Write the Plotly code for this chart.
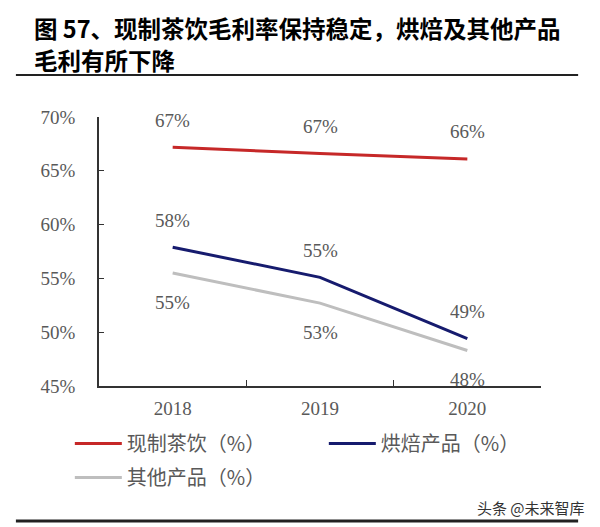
import plotly.graph_objects as go

years = ["2018", "2019", "2020"]
tea = [67.2, 66.6, 66.1]
bakery = [57.9, 55.1, 49.4]
other = [55.5, 52.7, 48.3]
tea_labels = ["67%", "67%", "66%"]
bakery_labels = ["58%", "55%", "49%"]
other_labels = ["55%", "53%", "48%"]
y_ticks = [45, 50, 55, 60, 65, 70]
title_lines = ["图 57、现制茶饮毛利率保持稳定，烘焙及其他产品", "毛利有所下降"]

serif = "Liberation Serif, Times New Roman, serif"
cjk = "Noto Sans CJK SC"
grey_txt = "#595959"

fig = go.Figure()
fig.add_trace(go.Scatter(x=years, y=tea, mode="lines", name="现制茶饮（%）",
                         line=dict(color="#C62828", width=3)))
fig.add_trace(go.Scatter(x=years, y=bakery, mode="lines", name="烘焙产品（%）",
                         line=dict(color="#161B6E", width=3)))
fig.add_trace(go.Scatter(x=years, y=other, mode="lines", name="其他产品（%）",
                         line=dict(color="#BEBEBE", width=3), legend="legend2"))

# data labels (category index used as x)
for vals, labels, shift in [(tea, tea_labels, 27), (bakery, bakery_labels, 27), (other, other_labels, -29)]:
    for i, (v, t) in enumerate(zip(vals, labels)):
        fig.add_annotation(x=i, y=v, text=t, showarrow=False, yshift=shift,
                           font=dict(family=serif, size=19, color=grey_txt))

# title, one annotation per line
for line, ypos in zip(title_lines, [1.331, 1.212]):
    fig.add_annotation(text=f"<b>{line}</b>", xref="paper", yref="paper", x=-0.1516, y=ypos,
                       xanchor="left", yanchor="middle", align="left", showarrow=False,
                       font=dict(family=cjk, size=23.5, color="black"))

fig.add_annotation(text="头条 @未来智库", xref="paper", yref="paper", x=1.104, y=-0.45,
                   xanchor="right", yanchor="middle", showarrow=False,
                   font=dict(family=cjk, size=15, color="#333333"))

# title rule and bottom rule
fig.add_shape(type="line", xref="paper", yref="paper", x0=-0.188, x1=1.084, y0=1.156, y1=1.156,
              line=dict(color="#222222", width=2))
fig.add_shape(type="line", xref="paper", yref="paper", x0=-0.188, x1=1.084, y0=-0.502, y1=-0.502,
              line=dict(color="#222222", width=3))

legend_font = dict(family=cjk, size=20, color=grey_txt)
fig.update_layout(
    width=600, height=527,
    margin=dict(l=91, r=67, t=109, b=149),
    plot_bgcolor="white", paper_bgcolor="white",
    legend=dict(orientation="h", x=-0.066, y=-0.141, xanchor="left", yanchor="top",
                entrywidth=192, itemwidth=47, font=legend_font, bgcolor="rgba(0,0,0,0)"),
    legend2=dict(orientation="h", x=-0.066, y=-0.268, xanchor="left", yanchor="top",
                 itemwidth=47, font=legend_font, bgcolor="rgba(0,0,0,0)"),
    showlegend=True,
)
fig.update_xaxes(type="category", range=[-0.5, 2.5], tickson="boundaries",
                 ticks="inside", ticklen=6, tickcolor="#333333",
                 showline=True, linecolor="#333333", linewidth=1.5,
                 showgrid=False, ticklabelstandoff=4,
                 tickfont=dict(family=serif, size=19, color=grey_txt))
fig.update_yaxes(range=[45, 70], tickvals=y_ticks, ticktext=[f"{v}%" for v in y_ticks],
                 ticks="inside", ticklen=5, tickcolor="#333333",
                 showline=True, linecolor="#333333", linewidth=1.5,
                 showgrid=False, zeroline=False, ticklabelstandoff=18,
                 tickfont=dict(family=serif, size=19, color=grey_txt))

fig.write_html("out.html")
